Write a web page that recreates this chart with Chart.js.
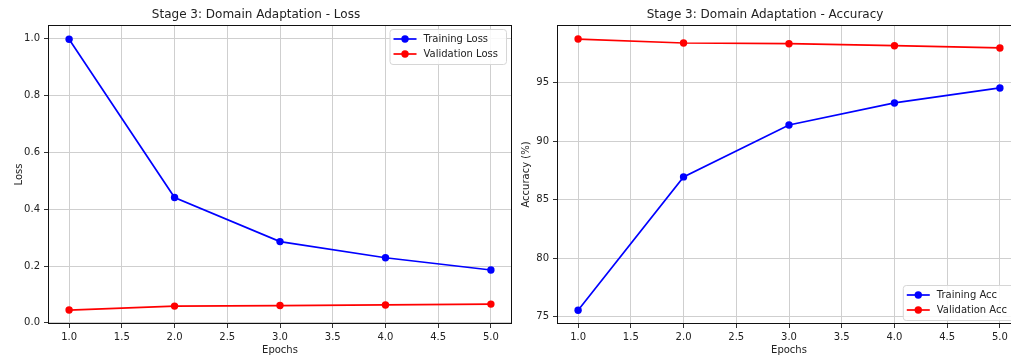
<!DOCTYPE html>
<html>
<head>
<meta charset="utf-8">
<script src="https://cdn.jsdelivr.net/npm/chart.js@4.4.1/dist/chart.umd.min.js"></script>
<style>
  html, body { margin: 0; padding: 0; background: #fff; }
  body { width: 1011px; height: 360px; overflow: hidden; position: relative; }
  .box { position: absolute; top: 0; width: 520px; height: 360px; }
  #lossBox { left: 0; }
  #accBox { left: 509px; }
</style>
</head>
<body>
<div class="box" id="lossBox"><canvas id="lossChart" width="520" height="360"></canvas></div>
<div class="box" id="accBox"><canvas id="accChart" width="520" height="360"></canvas></div>
<script>
var epochs = [1, 2, 3, 4, 5];
var epochTicks = [1.0, 1.5, 2.0, 2.5, 3.0, 3.5, 4.0, 4.5, 5.0];

var trainLoss = [0.998, 0.441, 0.286, 0.229, 0.186];
var valLoss = [0.045, 0.059, 0.061, 0.063, 0.066];
var lossTicks = [0.0, 0.2, 0.4, 0.6, 0.8, 1.0];

var trainAcc = [75.55, 86.95, 91.39, 93.27, 94.55];
var valAcc = [98.73, 98.39, 98.33, 98.16, 97.97];
var accTicks = [75, 80, 85, 90, 95];

Chart.defaults.font.family = '"DejaVu Sans", sans-serif';
Chart.defaults.font.size = 10;
Chart.defaults.color = '#222';

function pts(ys) {
    return epochs.map(function (e, i) { return { x: e, y: ys[i] }; });
}

function series(label, ys, color) {
    return {
        label: label,
        data: pts(ys),
        borderColor: color,
        backgroundColor: color,
        borderWidth: 1.7,
        pointRadius: 3.7,
        pointHoverRadius: 3.7,
        pointBorderWidth: 0,
        tension: 0
    };
}

// black box round the plot area, like the matplotlib spines
var frame = {
    id: 'frame',
    afterDatasetsDraw: function (chart) {
        var a = chart.chartArea, ctx = chart.ctx;
        ctx.save();
        ctx.strokeStyle = '#111';
        ctx.lineWidth = 1;
        ctx.strokeRect(Math.round(a.left) + 0.5, Math.round(a.top) + 0.5,
            Math.round(a.right - a.left) - 1, Math.round(a.bottom - a.top) - 1);
        ctx.restore();
    }
};

// legend drawn inside the plot area
var boxLegend = {
    id: 'boxLegend',
    afterDraw: function (chart, args, opts) {
        var a = chart.chartArea, ctx = chart.ctx;
        var sets = chart.data.datasets;
        ctx.save();
        ctx.font = '10px "DejaVu Sans"';
        var tw = Math.max.apply(null, sets.map(function (d) { return ctx.measureText(d.label).width; }));
        var w = tw + 42, h = 35;
        var x = a.right - 6 - w;
        var y = opts.corner === 'top' ? a.top + 4 : a.bottom - 4 - h;
        ctx.fillStyle = 'rgba(255,255,255,0.85)';
        ctx.strokeStyle = '#d6d6d6';
        ctx.lineWidth = 1;
        ctx.beginPath();
        ctx.roundRect(x + 0.5, y + 0.5, w, h, 3);
        ctx.fill();
        ctx.stroke();
        sets.forEach(function (d, i) {
            var cy = y + 10 + i * 15;
            ctx.strokeStyle = d.borderColor;
            ctx.lineWidth = 1.7;
            ctx.beginPath();
            ctx.moveTo(x + 4, cy);
            ctx.lineTo(x + 27, cy);
            ctx.stroke();
            ctx.fillStyle = d.borderColor;
            ctx.beginPath();
            ctx.arc(x + 15.5, cy, 3.7, 0, Math.PI * 2);
            ctx.fill();
            ctx.fillStyle = '#222';
            ctx.textBaseline = 'middle';
            ctx.fillText(d.label, x + 34, cy + 0.5);
        });
        ctx.restore();
    }
};

function makeChart(id, title, yLabel, yLabelPad, datasets, yMin, yMax, yTicks, yFmt, corner) {
    return new Chart(document.getElementById(id), {
        type: 'line',
        data: { datasets: datasets },
        plugins: [frame, boxLegend],
        options: {
            responsive: false,
            animation: false,
            events: [],
            layout: { padding: { left: 0, right: 8, top: 0, bottom: 0 } },
            plugins: {
                legend: { display: false },
                tooltip: { enabled: false },
                title: {
                    display: true,
                    text: title,
                    font: { size: 12, weight: 'normal' },
                    color: '#222',
                    padding: { top: 8, bottom: 2.6 }
                },
                boxLegend: { corner: corner }
            },
            scales: {
                x: {
                    type: 'linear',
                    min: 0.8,
                    max: 5.2,
                    afterBuildTicks: function (s) { s.ticks = epochTicks.map(function (v) { return { value: v }; }); },
                    afterFit: function (s) { s.height = 36; },
                    ticks: {
                        padding: 3,
                        maxRotation: 0,
                        color: '#222',
                        callback: function (v) { return v.toFixed(1); }
                    },
                    grid: { color: '#cfcfcf', tickColor: '#333', tickLength: 4, lineWidth: 1 },
                    border: { display: false },
                    title: { display: true, text: 'Epochs', color: '#222', padding: { top: 0, bottom: 4 } }
                },
                y: {
                    type: 'linear',
                    min: yMin,
                    max: yMax,
                    afterBuildTicks: function (s) { s.ticks = yTicks.map(function (v) { return { value: v }; }); },
                    afterFit: function (s) { s.width = 48; },
                    ticks: { padding: 4, color: '#222', callback: yFmt },
                    grid: { color: '#cfcfcf', tickColor: '#333', tickLength: 4, lineWidth: 1 },
                    border: { display: false },
                    title: { display: true, text: yLabel, color: '#222', padding: { top: yLabelPad, bottom: 0 } }
                }
            }
        }
    });
}

makeChart('lossChart', 'Stage 3: Domain Adaptation - Loss', 'Loss', 13,
    [series('Training Loss', trainLoss, '#0000ff'), series('Validation Loss', valLoss, '#ff0000')],
    -0.004, 1.048, lossTicks, function (v) { return v.toFixed(1); }, 'top');

makeChart('accChart', 'Stage 3: Domain Adaptation - Accuracy', 'Accuracy (%)', 11,
    [series('Training Acc', trainAcc, '#0000ff'), series('Validation Acc', valAcc, '#ff0000')],
    74.38, 99.93, accTicks, function (v) { return String(v); }, 'bottom');
</script>
</body>
</html>
